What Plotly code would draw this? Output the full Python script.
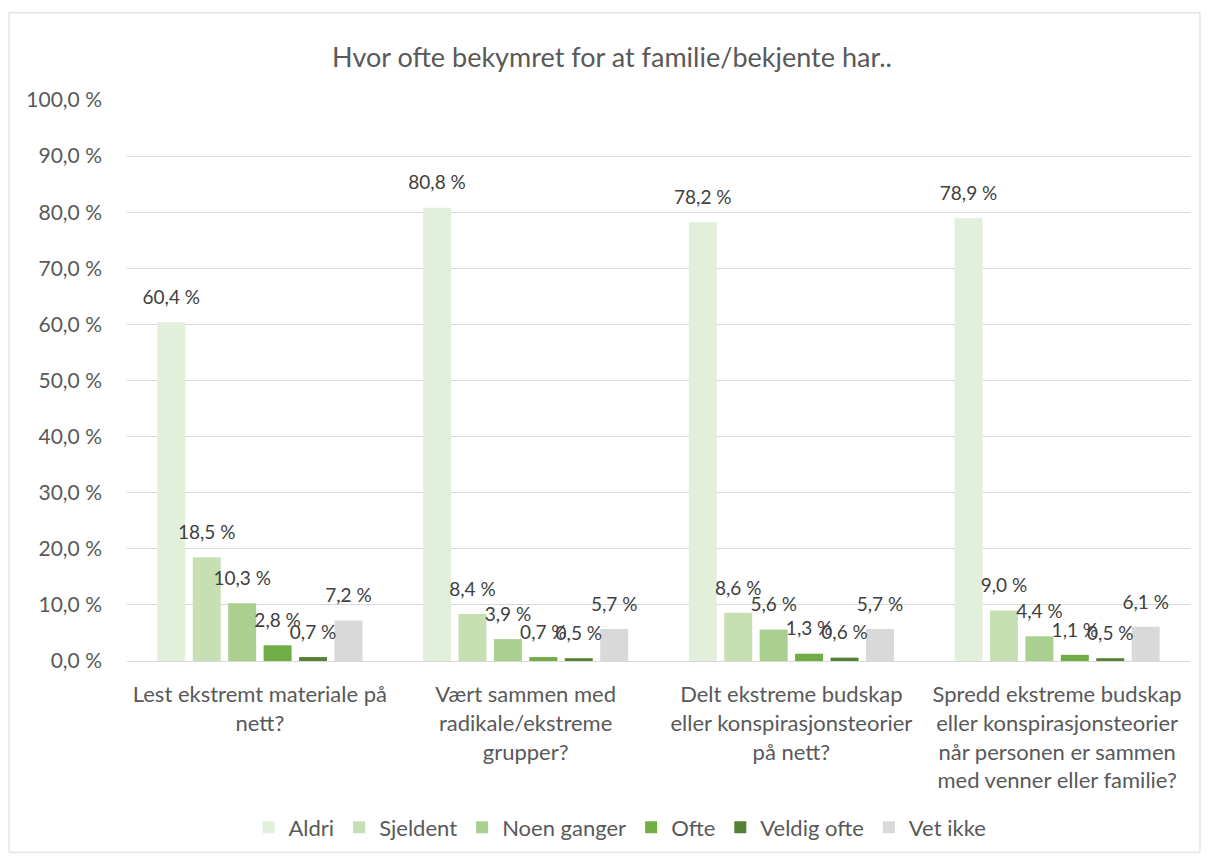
import plotly.graph_objects as go

categories = [
    "Lest ekstremt materiale på<br>nett?",
    "Vært sammen med<br>radikale/ekstreme<br>grupper?",
    "Delt ekstreme budskap<br>eller konspirasjonsteorier<br>på nett?",
    "Spredd ekstreme budskap<br>eller konspirasjonsteorier<br>når personen er sammen<br>med venner eller familie?",
]
series_names = ["Aldri", "Sjeldent", "Noen ganger", "Ofte", "Veldig ofte", "Vet ikke"]
aldri = [60.4, 80.8, 78.2, 78.9]
sjeldent = [18.5, 8.4, 8.6, 9.0]
noen_ganger = [10.3, 3.9, 5.6, 4.4]
ofte = [2.8, 0.7, 1.3, 1.1]
veldig_ofte = [0.7, 0.5, 0.6, 0.5]
vet_ikke = [7.2, 5.7, 5.7, 6.1]
series_values = [aldri, sjeldent, noen_ganger, ofte, veldig_ofte, vet_ikke]
colors = ["#E2EFDA", "#C6E0B4", "#A9D08E", "#70AD47", "#548235", "#D9D9D9"]
tick_vals = [0, 10, 20, 30, 40, 50, 60, 70, 80, 90, 100]
tick_text = [f"{v:.1f} %".replace(".", ",") for v in tick_vals]

FONT = "Lato"
OFF = 8  # page body margin
W, H = 1193, 852
# target plot area in page pixels: x 127..1190, y 100..666
L, R, T, B = 127 - OFF, W - (1190 - OFF), 100 - OFF, H - (666 - OFF)
PW, PH = W - L - R, H - T - B
GAP = 0.20

fig = go.Figure()
for name, vals, col in zip(series_names, series_values, colors):
    fig.add_trace(go.Bar(
        x=categories, y=vals, name=name, marker_color=col,
        marker_line_width=0, offsetgroup=name,
    ))
for name, vals in zip(series_names, series_values):
    fig.add_trace(go.Scatter(
        x=categories, y=vals, name=name, showlegend=False, offsetgroup=name,
        mode="markers+text", marker=dict(size=20, opacity=0),
        text=[f"{v:.1f} %".replace(".", ",") for v in vals],
        textposition="top center",
        textfont=dict(family=FONT, size=19, color="#404040"),
        cliponaxis=False, hoverinfo="skip",
    ))

fig.update_layout(
    width=W, height=H,
    paper_bgcolor="white", plot_bgcolor="white",
    barmode="group", bargap=GAP, bargroupgap=0.21,
    scattermode="group", scattergap=GAP,
    margin=dict(l=L, r=R, t=T, b=B),
    title=dict(text="Hvor ofte bekymret for at familie/bekjente har..",
               x=(612 - OFF) / W, xanchor="center", y=1 - (58 - OFF) / H, yanchor="middle",
               font=dict(family=FONT, size=27, color="#595959")),
    font=dict(family=FONT, color="#595959"),
    legend=dict(orientation="h", x=(620 - 127) / PW, xanchor="center",
                y=(666 - 834) / PH, yanchor="middle",
                font=dict(family=FONT, size=22, color="#595959"), traceorder="normal"),
    xaxis=dict(tickfont=dict(family=FONT, size=22, color="#595959"), showline=True,
               linecolor="#D9D9D9", linewidth=1, ticks="", ticklabelstandoff=14),
    yaxis=dict(range=[0, 100], tickvals=tick_vals, ticktext=tick_text,
               tickfont=dict(family=FONT, size=21, color="#595959"),
               ticklabelstandoff=24,
               gridcolor="#D9D9D9", gridwidth=1, zeroline=False, ticklen=0),
    shapes=[dict(type="rect", xref="paper", yref="paper",
                 x0=(9 - 127) / PW, x1=(1200 - 127) / PW,
                 y0=(666 - 859) / PH, y1=(666 - 12) / PH,
                 line=dict(color="#D9D9D9", width=1), fillcolor="rgba(0,0,0,0)")],
)
fig.write_html("out.html")
